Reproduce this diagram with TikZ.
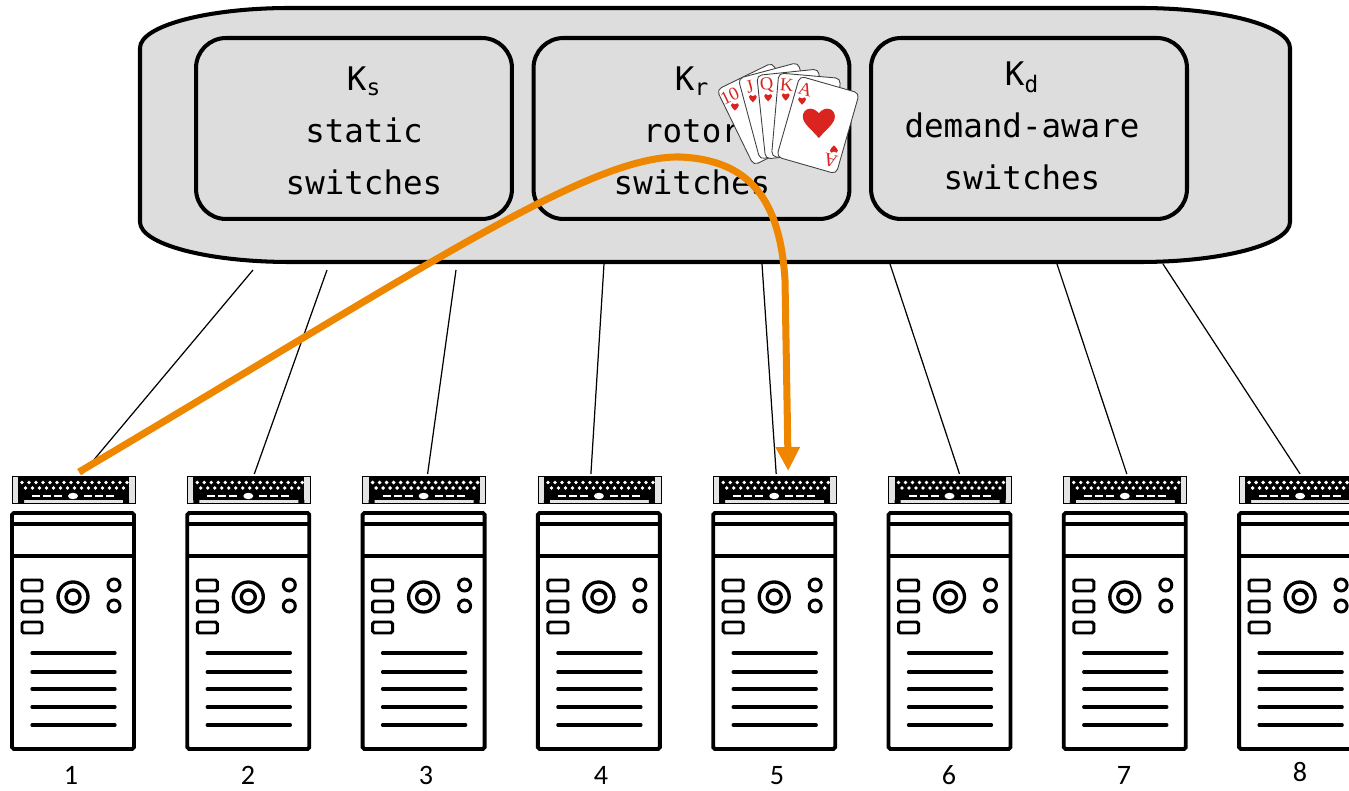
\documentclass[tikz,border=0pt]{standalone}
\usepackage{fontspec}
\setmainfont{Carlito}
\newfontfamily\monofont{DejaVu Sans Mono}
\newfontfamily\cardfont{Liberation Serif}
\usetikzlibrary{arrows.meta}

\definecolor{swgray}{RGB}{221,221,221}
\definecolor{flowor}{RGB}{238,134,0}
\definecolor{cardred}{RGB}{218,36,32}
\definecolor{capgray}{RGB}{228,228,228}

\tikzset{
  swbox/.style={draw, line width=2.3pt, fill=swgray, rounded corners=0.6cm,
    minimum width=6.32cm, minimum height=3.62cm},
  swtext/.style={align=center, inner sep=0,
    font=\monofont\fontsize{18.5}{29.5}\selectfont},
  link/.style={line width=0.7pt},
  flow/.style={draw=flowor, line width=4pt, -{Triangle[length=0.48cm,width=0.46cm]}},
  card/.style={draw=black!75, line width=0.5pt, fill=white, rounded corners=0.1cm,
    minimum width=1.24cm, minimum height=1.68cm, inner sep=0, transform shape},
  cardidx/.style={text=cardred, inner sep=0, transform shape,
    font=\cardfont\fontsize{10.5}{10.5}\selectfont},
  heart/.pic={
    \fill[cardred] (0,-1) .. controls (-0.45,-0.45) and (-1,-0.1) .. (-1,0.35)
      .. controls (-1,0.85) and (-0.4,1.05) .. (0,0.55)
      .. controls (0.4,1.05) and (1,0.85) .. (1,0.35)
      .. controls (1,-0.1) and (0.45,-0.45) .. (0,-1) -- cycle;
  },
  server/.pic={
    % rack unit
    \draw[line width=0.4pt, fill=capgray] (-61,288) rectangle (62,315);
    \fill (-55,291) rectangle (56,315);
    \fill (-55,288) rectangle (-49,291) (50,288) rectangle (56,291);
    \foreach \d in {0,...,15} \fill[white] (-51+7*\d,308.5) circle (1.9);
    \foreach \d in {0,...,14} \fill[white] (-47.5+7*\d,303) circle (1.9);
    \foreach \d in {-41,-30,-19,11,22,33} \draw[white, line width=1.1pt] (\d,295) -- ++(8,0);
    \fill[white] (0,295) ellipse[x radius=5, y radius=3.2];
    % tower
    \draw[line width=2.2pt, rounded corners=1pt] (-61,42) rectangle (61,278);
    \draw[line width=2.2pt] (-61,267) -- (61,267) (-61,235) -- (61,235);
    \foreach \r in {200,179,158}
      \draw[line width=1.7pt, rounded corners=1pt] (-51,\r) rectangle (-31,\r+11);
    \draw[line width=1.9pt] (0,194) circle (15) (0,194) circle (7);
    \draw[line width=1.7pt] (41,206) circle (6) (41,185) circle (6);
    \foreach \r in {138,119,102,84,66}
      \draw[line width=1.9pt, line cap=round] (-41,\r) -- (42,\r);
  }
}

\begin{document}
\begin{tikzpicture}[x=0.02cm, y=0.02cm]
  \useasboundingbox (0,0) rectangle (1349,791);

  % switch layer
  \draw[line width=2.3pt, fill=swgray] (140,569) -- (140,743)
    arc[start angle=180, end angle=90, x radius=150, y radius=40] -- (1140,783)
    arc[start angle=90, end angle=0, x radius=150, y radius=40] -- (1290,569)
    arc[start angle=0, end angle=-90, x radius=150, y radius=40] -- (290,529)
    arc[start angle=270, end angle=180, x radius=150, y radius=40] -- cycle;
  \node[swbox] (ks) at (354,662.5) {};
  \node[swbox] (kr) at (691.5,662.5) {};
  \node[swbox] (kd) at (1029,662.5) {};
  \node[swtext] (kstxt) at (364,660) {K\textsubscript{s}\\static\\switches};
  \node[swtext] (krtxt) at (692,660) {K\textsubscript{r}\\rotor\\switches};
  \node[swtext] (kdtxt) at (1022,665) {K\textsubscript{d}\\demand-aware\\switches};

  % servers
  \foreach \i in {1,...,8} {
    \pgfmathsetmacro\cx{73+175.3*(\i-1)}
    \pic at (\cx,0) {server};
    \coordinate (srv\i) at (\cx,317);
  }
  \foreach \i/\lx/\ly in {1/71/6, 2/248/6, 3/426/6, 4/601/6, 5/777/6, 6/949/6, 7/1124/6, 8/1300/9}
    \node[font=\fontsize{16}{16}\selectfont, anchor=base, inner sep=0] (lab\i) at (\lx,\ly) {\i};

  % links between the switch layer and the servers
  \foreach \i/\tx/\ty/\dx in {1/253/521/9, 2/327/521/6, 3/456/521/4, 4/604/527/-8,
                              5/762/527/2, 6/890/527/10, 7/1057/527/2, 8/1163/527/0} {
    \coordinate (up\i) at (\tx,\ty);
    \draw[link] (up\i) -- ([xshift=\dx*0.02cm]srv\i);
  }

  % path from server 1 to server 5
  \draw[flow] ([xshift=0.12cm, yshift=0.04cm]srv1) .. controls (420,521) and (590,636) .. (680,634)
    .. controls (750,631) and (780,591) .. (785,511) -- ([xshift=0.28cm, yshift=0.06cm]srv5);

  % hand of cards
  \foreach \c/\x/\y/\a in {10/763/677/26, J/779/680/15, Q/792/677/6, K/806/673.5/-5} {
    \begin{scope}[shift={(\x,\y)}, rotate=\a]
      \node[card] (card\c) at (0,0) {};
      \node[cardidx] at (-22,31) {\c};
      \pic[scale=4] at (-22,19) {heart};
    \end{scope}
  }
  \begin{scope}[shift={(818,666)}, rotate=-16]
    \node[card] (cardA) at (0,0) {};
    \node[cardidx] at (-22,31) {A};
    \pic[scale=4] at (-22,19) {heart};
    \pic[scale=16] at (0,3) {heart};
    \node[cardidx, rotate=180] at (22,-31) {A};
    \pic[scale=4, rotate=180] at (22,-19) {heart};
  \end{scope}
\end{tikzpicture}
\end{document}
